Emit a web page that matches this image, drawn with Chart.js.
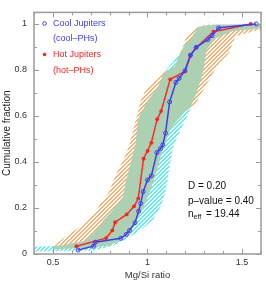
<!DOCTYPE html>
<html>
<head>
<meta charset="utf-8">
<script src="https://cdn.jsdelivr.net/npm/chart.js@4.4.1/dist/chart.umd.min.js"></script>
<style>
  html,body{margin:0;padding:0;background:#fff}
  #wrap{width:266px;height:284px}
</style>
</head>
<body>
<div id="wrap"><canvas id="c" width="266" height="284"></canvas></div>
<script>
'use strict';

/* ── data ── */
// hot Jupiters (hot-PHs) cumulative distribution
const hotMgSi=[0.624,0.781,0.814,0.829,0.890,0.929,0.951,0.979,1.000,1.020,1.051,1.072,1.120,1.198,1.227,1.258,1.349,1.546];
const hotCdf =[0.034,0.069,0.103,0.138,0.172,0.207,0.241,0.414,0.448,0.483,0.586,0.621,0.759,0.793,0.862,0.897,0.966,1.000];
// cool Jupiters (cool-PHs)
const coolMgSi=[0.633,0.714,0.724,0.859,0.888,0.905,0.934,0.953,0.964,0.977,1.000,1.020,1.050,1.069,1.081,1.095,1.117,1.150,1.167,1.198,1.227,1.257,1.319,1.341,1.376,1.575];
const coolCdf =[0.017,0.034,0.051,0.068,0.085,0.102,0.136,0.186,0.220,0.271,0.322,0.339,0.441,0.458,0.475,0.525,0.661,0.746,0.763,0.797,0.864,0.898,0.932,0.949,0.983,1.000];

// confidence bands, [Mg/Si, fraction]
const hotBandUpper=[[0.498,0.028],[0.550,0.065],[0.622,0.106],[0.679,0.140],[0.726,0.181],[0.752,0.222],[0.793,0.264],[0.814,0.305],[0.834,0.347],[0.871,0.409],[0.902,0.467],[0.933,0.566],[0.964,0.666],[0.989,0.711],[1.052,0.761],[1.093,0.794],[1.145,0.815],[1.160,0.852],[1.186,0.898],[1.207,0.947],[1.248,0.981],[1.310,0.997],[1.600,0.997]];
const hotBandLower=[[0.498,0.020],[0.690,0.028],[0.793,0.036],[0.855,0.057],[0.907,0.098],[0.938,0.140],[0.979,0.202],[1.015,0.276],[1.052,0.367],[1.083,0.463],[1.129,0.554],[1.196,0.616],[1.258,0.657],[1.300,0.720],[1.336,0.773],[1.372,0.823],[1.429,0.873],[1.465,0.947],[1.600,0.976]];
const coolBandUpper=[[0.400,0.032],[0.534,0.036],[0.664,0.057],[0.715,0.090],[0.767,0.148],[0.819,0.193],[0.871,0.251],[0.886,0.318],[0.912,0.400],[0.938,0.483],[0.948,0.583],[1.000,0.666],[1.052,0.720],[1.088,0.790],[1.145,0.844],[1.191,0.898],[1.243,0.955],[1.274,0.989],[1.362,0.997],[1.600,1.000]];
const coolBandLower=[[0.400,0.011],[0.715,0.015],[0.819,0.036],[0.896,0.069],[0.974,0.111],[1.026,0.148],[1.067,0.202],[1.093,0.264],[1.114,0.367],[1.134,0.463],[1.170,0.533],[1.207,0.595],[1.248,0.678],[1.284,0.761],[1.300,0.815],[1.310,0.885],[1.362,0.938],[1.450,0.968],[1.600,0.981]];

const xTickVals=[0.5,1,1.5];
const xTickLabels=['0.5','1','1.5'];
const yTickVals=[0,0.2,0.4,0.6,0.8,1];
const yTickLabels=['0','0.2','0.4','0.6','0.8','1'];

const statLines=['D = 0.20','p\u2013value = 0.40','= 19.44'];

/* ── helpers ── */
const FONT='"Liberation Sans", Arial, Helvetica, sans-serif';
const canvas=document.getElementById('c');
const ctx0=canvas.getContext('2d');

// diagonal stripes, 4px period; the bands use opposite halves so the overlap mixes
function hatch(color,phase){
  const t=document.createElement('canvas');
  t.width=t.height=4;
  const g=t.getContext('2d');
  g.fillStyle=color;
  for(let y=0;y<4;y++)for(let x=0;x<4;x++){
    if(((x+y+phase)%4)<2)g.fillRect(x,y,1,1);
  }
  return ctx0.createPattern(t,'repeat');
}
const band=(up,lo)=>up.concat(lo.slice().reverse()).map(([x,y])=>({x,y}));
const pts=(xs,ys)=>xs.map((x,i)=>({x,y:ys[i]}));

/* ── frame + inward ticks on all four sides ── */
const frameTicks={
  id:'frameTicks',
  afterDatasetsDraw(chart){
    const {ctx,chartArea:a,scales:{x,y}}=chart;
    ctx.save();
    ctx.strokeStyle='#9a9a9a';
    ctx.lineWidth=1.5;
    ctx.strokeRect(a.left,a.top,a.right-a.left,a.bottom-a.top);
    ctx.lineWidth=1;
    ctx.beginPath();
    for(let i=4;i<=16;i++){
      const px=Math.round(x.getPixelForValue(i/10))+0.5;
      const L=i%5===0?5:3;
      ctx.moveTo(px,a.bottom);ctx.lineTo(px,a.bottom-L);
      ctx.moveTo(px,a.top);ctx.lineTo(px,a.top+L);
    }
    for(let i=0;i<=10;i++){
      const py=Math.round(y.getPixelForValue(i/10))+0.5;
      const L=i%2===0?5:3;
      ctx.moveTo(a.left,py);ctx.lineTo(a.left+L,py);
      ctx.moveTo(a.right,py);ctx.lineTo(a.right-L,py);
    }
    ctx.stroke();
    ctx.restore();
  }
};

/* ── legend and KS statistics written inside the plot ── */
const notes={
  id:'notes',
  afterDraw(chart){
    const {ctx,chartArea:a}=chart;
    ctx.save();
    ctx.textBaseline='middle';
    ctx.font='9px '+FONT;
    // legend markers
    ctx.strokeStyle='#3c3cff';ctx.lineWidth=1;
    ctx.beginPath();ctx.arc(a.left+10.5,23.5,1.8,0,Math.PI*2);ctx.stroke();
    ctx.fillStyle='#ff2020';
    ctx.beginPath();ctx.arc(a.left+10.5,54.5,1.8,0,Math.PI*2);ctx.fill();
    ctx.fillStyle='#3c3cff';
    ctx.fillText('Cool Jupiters',a.left+19,23.5);
    ctx.fillText('(cool\u2013PHs)',a.left+19,39);
    ctx.fillStyle='#ff2020';
    ctx.fillText('Hot Jupiters',a.left+19,54.5);
    ctx.fillText('(hot\u2013PHs)',a.left+19,71);
    // stats
    ctx.fillStyle='#111';
    ctx.font='10px '+FONT;
    const sx=188;
    ctx.fillText(statLines[0],sx,186);
    ctx.fillText(statLines[1],sx,201);
    ctx.fillText('n',sx,214);
    ctx.font='7px '+FONT;
    ctx.fillText('eff',sx+5.5,217);
    ctx.font='10px '+FONT;
    ctx.fillText(statLines[2],sx+18,214);
    ctx.restore();
  }
};

new Chart(canvas,{
  type:'scatter',
  data:{
    datasets:[
      {
        label:'Cool Jupiters',
        data:pts(coolMgSi,coolCdf),
        showLine:true,
        borderColor:'#3c3cff',
        borderWidth:1.5,
        pointStyle:'circle',
        pointRadius:2,
        pointBorderWidth:1,
        pointBorderColor:'#3c3cff',
        pointBackgroundColor:'rgba(0,0,0,0)',
        order:0
      },
      {
        label:'Hot Jupiters',
        data:pts(hotMgSi,hotCdf),
        showLine:true,
        borderColor:'#ff2828',
        borderWidth:1.5,
        pointStyle:'circle',
        pointRadius:1.9,
        pointBorderWidth:0,
        pointBackgroundColor:'#ff2020',
        order:1
      },
      {
        label:'hot band',
        data:band(hotBandUpper,hotBandLower),
        showLine:true,
        fill:'shape',
        borderWidth:0,
        pointRadius:0,
        backgroundColor:hatch('#ffb070',0),
        order:2
      },
      {
        label:'cool band',
        data:band(coolBandUpper,coolBandLower),
        showLine:true,
        fill:'shape',
        borderWidth:0,
        pointRadius:0,
        backgroundColor:hatch('#58f2f2',2),
        order:3
      }
    ]
  },
  options:{
    responsive:false,
    devicePixelRatio:1,
    animation:false,
    events:[],
    layout:{padding:{top:1,right:1,left:0,bottom:0}},
    plugins:{legend:{display:false},tooltip:{enabled:false}},
    scales:{
      x:{
        type:'linear',min:0.4,max:1.6,
        afterBuildTicks:s=>{s.ticks=xTickVals.map(v=>({value:v}));},
        afterFit:s=>{s.height=30;},
        grid:{display:false,drawTicks:false},
        border:{display:false},
        ticks:{callback:(v,i)=>xTickLabels[i],font:{family:FONT,size:9},color:'#333',padding:3,maxRotation:0,autoSkip:false},
        title:{display:true,text:'Mg/Si ratio',font:{family:FONT,size:9.5},color:'#333',padding:{top:0,bottom:3}}
      },
      y:{
        type:'linear',min:0,max:1.05,
        afterBuildTicks:s=>{s.ticks=yTickVals.map(v=>({value:v}));},
        afterFit:s=>{s.width=34;},
        grid:{display:false,drawTicks:false},
        border:{display:false},
        ticks:{callback:(v,i)=>yTickLabels[i],font:{family:FONT,size:9},color:'#333',padding:7,autoSkip:false},
        title:{display:true,text:'Cumulative fraction',font:{family:FONT,size:10},color:'#222',padding:{top:1,bottom:1}}
      }
    }
  },
  plugins:[frameTicks,notes]
});
</script>
</body>
</html>
